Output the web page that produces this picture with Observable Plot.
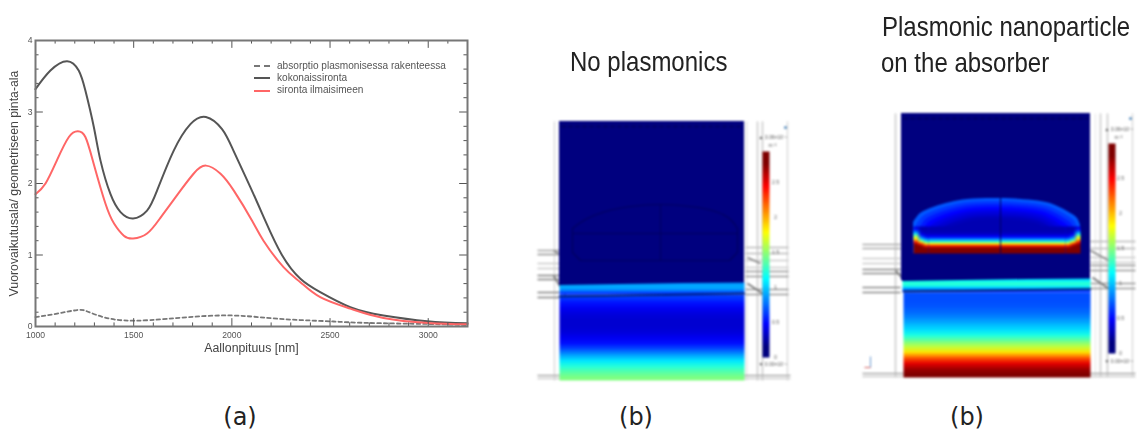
<!DOCTYPE html>
<html><head><meta charset="utf-8">
<script src="https://cdn.jsdelivr.net/npm/d3@7"></script>
<script src="https://cdn.jsdelivr.net/npm/@observablehq/plot@0.6"></script>
<style>
html,body{margin:0;background:#fff;width:1137px;height:432px;overflow:hidden;font-family:"Liberation Sans",sans-serif}
#stage{position:relative;width:1137px;height:432px}
#stage>*{position:absolute}
#chart{left:0;top:0;filter:blur(.55px)}
#fields{left:530px;top:0;filter:blur(.8px)}
.title{font-size:24px;color:#222;white-space:nowrap;transform-origin:0 50%;transform:scaleY(1.12);filter:blur(.35px)}
.cap{font-family:"DejaVu Sans",sans-serif;font-size:24px;color:#222;transform:translateX(-50%);white-space:nowrap}
#legend{left:254px;top:59.5px;filter:blur(.5px);font-size:10.1px;color:#555;line-height:12.4px}
#legend div{display:flex;align-items:center;white-space:nowrap}
#legend i{display:inline-block;width:16px;margin-right:7px;border-top:2px solid}
</style></head><body><div id="stage"></div>
<script>
// Panel (a): line series [nm, cross-section ratio]
const totalX=[1000,1076,1161,1220,1254,1297,1331,1382,1433,1497,1568,1619,1704,1789,1868,1950,2008,2094,2170,2255,2349,2450,2603,2772,2995,3200];
const totalY=[3.32,3.58,3.71,3.58,3.30,2.79,2.32,1.85,1.60,1.51,1.62,1.90,2.46,2.83,2.93,2.76,2.46,1.95,1.48,1.0,.667,.48,.27,.155,.075,.045];
const detX=[1000,1051,1110,1170,1215,1254,1297,1356,1400,1450,1497,1568,1636,1695,1738,1806,1868,1941,2010,2103,2161,2263,2349,2450,2603,2772,3000,3200];
const detY=[1.85,2.0,2.33,2.65,2.73,2.65,2.27,1.72,1.44,1.27,1.23,1.30,1.52,1.74,1.90,2.14,2.25,2.14,1.90,1.48,1.20,.83,.62,.41,.25,.12,.05,.03];
const absX=[1000,1110,1212,1264,1347,1450,1585,1773,1992,2180,2349,2517,2690,3000,3200];
const absY=[.13,.18,.23,.21,.13,.085,.09,.13,.155,.12,.09,.07,.05,.035,.02];
const xMajor=[1000,1500,2000,2500,3000];
const xMinor=[1100,1200,1300,1400,1600,1700,1800,1900,2100,2200,2300,2400,2600,2700,2800,2900,3100];
const yMajor=[0,1,2,3,4];
const yMinor=[.2,.4,.6,.8,1.2,1.4,1.6,1.8,2.2,2.4,2.6,2.8,3.2,3.4,3.6,3.8];
const legendNames=["absorptio plasmonisessa rakenteessa","kokonaissironta","sironta ilmaisimeen"];
const xTitle="Aallonpituus [nm]", yTitle="Vuorovaikutusala/ geometriseen pinta-ala";
// Panels (b): field values on a 0..1 colour range
const jetStops=[0,.125,.375,.625,.875,1];
const jetColors=["#00007f","#0000ff","#00ffff","#ffff00","#ff0000","#7f0000"];
const barRamp=[1,.875,.75,.625,.5,.375,.25,.125,0];
const barLabels=[2.5,2,1.5,1,.5,0];
const band1=[.27,.29,.29,.27,.22,.17];
const substrate1=[.18,.14,.11,.09,.08,.08,.09,.11,.14,.2,.28,.35,.41,.46,.5];
const band2=[.33,.39,.42,.4,.33,.24,.16];
const substrate2=[.2,.2,.21,.23,.26,.3,.34,.4,.48,.56,.65,.79,.9,.97,1];
const domeX=[913,920,933,950,967,1000,1033,1050,1067,1077,1080];
const domeTop=[222,213,207,202,199,198,200,203,211,218,225];
const rimValues=[.21,.18,.15,.125,.1,.08,.06,.05];
const rimInsets=[0,3,6,9,12,15,18,21];
const poolMid=[.05,.05,.05,.06,.08,.12,.2,.3,.42,.62,.82,.95,1,1,1];
const poolInner=[.05,.05,.06,.08,.12,.2,.3,.42,.62,.82,.95,1,1,1,1];
const poolEdge=[.1,.14,.2,.3,.42,.55,.62,.72,.85,.95,1,1,1,1,1];
// mesh lines: [x1,y1,x2,y2,shade]
const mesh=[
 [554,121,554,380,"#ddd"],[746,121,746,380,"#e4e4e4"],[757,121,757,380,"#ccc"],[762,121,762,380,"#ccc"],[787,121,787,380,"#ddd"],
 [537,250,559,250,"#aaa"],[537,254,559,254,"#999"],[537,263,559,263,"#ccc"],[537,268,559,268,"#ccc"],[537,275,559,275,"#888"],[537,279,559,279,"#888"],[537,292,559,292,"#888"],[537,297,559,297,"#888"],
 [745,247,788,247,"#bbb"],[745,253,788,253,"#bbb"],[745,260,788,260,"#ccc"],[745,267,788,267,"#ccc"],[745,271,788,271,"#999"],[745,276,788,276,"#999"],[745,289,788,289,"#999"],[745,294,788,294,"#999"],
 [537,375,790,375,"#aaa"],[537,378,790,378,"#ccc"],
 [747,257,760,263,"#888"],[747,283,762,293,"#777"],[553,275,565,295,"#777"],[553,250,558,253,"#888"],
 [895,113,895,377,"#ccc"],[1095,113,1095,377,"#eee"],[1100,113,1100,377,"#ccc"],[1107,113,1107,377,"#ccc"],[1132,113,1132,377,"#ddd"],
 [862,244,900,244,"#aaa"],[862,248,900,248,"#aaa"],[862,258,900,258,"#ccc"],[862,263,900,263,"#ccc"],[862,269,900,269,"#888"],[862,273,900,273,"#888"],[862,287,900,287,"#888"],[862,292,900,292,"#888"],
 [1090,241,1135,241,"#bbb"],[1090,248,1135,248,"#bbb"],[1090,257,1135,257,"#ccc"],[1090,262,1135,262,"#ccc"],[1090,265,1135,265,"#999"],[1090,270,1135,270,"#999"],[1090,283,1135,283,"#999"],[1090,288,1135,288,"#999"],
 [862,373,1135,373,"#aaa"],[862,376,1135,376,"#ccc"],
 [1090,250,1108,260,"#888"],[1092,277,1108,288,"#777"],[895,270,902,278,"#777"],[903,282,910,290,"#666"]
];
// outline of the particle drawn in the left field
const ghostX=[572,585,605,630,660,690,715,730,737];
const ghostY=[228,219,211,206,204,206,211,219,228];
const ghostBox=[[572,228],[572,252],[580,260],[729,260],[737,252],[737,228]];

const rows=(xs,ys)=>xs.map((x,i)=>({x,y:ys[i]}));
const L=(xs,ys,o)=>Plot.line(rows(xs,ys),{x:"x",y:"y",curve:"natural",...o});
const font="Liberation Sans";
const chart=Plot.plot({
 width:500,height:380,marginLeft:35,marginRight:33,marginTop:40,marginBottom:54,
 style:{background:"transparent",fontFamily:font},
 x:{domain:[1000,3200],axis:null},y:{domain:[0,4],axis:null},
 marks:[
  L(absX,absY,{stroke:"#777",strokeWidth:1.8,strokeDasharray:"3.5,3"}),
  L(totalX,totalY,{stroke:"#555",strokeWidth:2}),
  L(detX,detY,{stroke:"#ff6666",strokeWidth:2}),
  Plot.ruleX(xMajor,{y1:0,y2:.11,stroke:"#555"}),Plot.ruleX(xMajor,{y1:3.89,y2:4,stroke:"#555"}),
  Plot.ruleX(xMinor,{y1:0,y2:.05,stroke:"#555"}),Plot.ruleX(xMinor,{y1:3.95,y2:4,stroke:"#555"}),
  Plot.ruleY(yMajor,{x1:1000,x2:1040,stroke:"#555"}),Plot.ruleY(yMajor,{x1:3160,x2:3200,stroke:"#555"}),
  Plot.ruleY(yMinor,{x1:1000,x2:1018,stroke:"#555"}),Plot.ruleY(yMinor,{x1:3182,x2:3200,stroke:"#555"}),
  Plot.frame({stroke:"#777",strokeWidth:2}),
  Plot.axisX(xMajor,{anchor:"bottom",tickSize:0,tickPadding:5.5,fontSize:8.6,label:null,color:"#555",tickFormat:d=>String(d)}),
  Plot.axisY(yMajor,{anchor:"left",tickSize:0,tickPadding:3,fontSize:8.6,label:null,color:"#555",tickFormat:d=>String(d)}),
  Plot.text([xTitle],{frameAnchor:"bottom",dy:25,fontSize:12.3,fontWeight:500,fill:"#444"}),
  Plot.text([yTitle],{frameAnchor:"left",textAnchor:"middle",rotate:-90,dx:-21,fontSize:12.3,fill:"#444"})
 ]
});
chart.id="chart";

const meshMarks=Plot.link(mesh,{x1:d=>d[0],y1:d=>d[1],x2:d=>d[2],y2:d=>d[3],stroke:d=>d[4],strokeWidth:1.6});
const ras=(vals,w,x1,x2,y1,y2)=>Plot.raster(vals,{width:w,height:vals.length/w,x1,x2,y1,y2,fill:d=>d});
const grid=(cols)=>cols[0].flatMap((_,r)=>cols.map(c=>c[r]));
const navy=(x1,x2,y1,y2)=>Plot.rect([0],{x1,x2,y1,y2,fill:"#00007f"});
const ink="#000060";
const fields=Plot.plot({
 width:607,height:432,margin:0,style:{background:"transparent",fontFamily:font},
 x:{domain:[530,1137],range:[0,607],axis:null},
 y:{domain:[0,432],range:[0,432],axis:null},
 color:{type:"linear",domain:jetStops,range:jetColors,interpolate:"rgb"},
 marks:[
  meshMarks,
  // left field
  navy(559,744,121,285),
  ras(band1,1,559,744,282,294),
  Plot.areaY([[559,282,285],[744,282,282]],{x:d=>d[0],y1:d=>d[1],y2:d=>d[2],fill:"#00007f"}),
  ras(substrate1,1,559,744,294,380),
  Plot.line([[559,296],[744,293]],{x:d=>d[0],y:d=>d[1],stroke:"#002060",strokeWidth:1.6}),
  L(ghostX,ghostY,{stroke:ink,strokeWidth:1.2}),
  Plot.line(ghostBox,{x:d=>d[0],y:d=>d[1],stroke:ink,strokeWidth:1.2}),
  Plot.ruleY([233],{x1:572,x2:737,stroke:ink,strokeWidth:1}),
  Plot.ruleX([660],{y1:204,y2:260,stroke:ink,strokeWidth:1}),
  Plot.ruleY([126],{x1:561,x2:742,stroke:ink,strokeWidth:1.4,strokeDasharray:"5,2"}),
  // colour bar left
  ras(barRamp,1,762,769,151,357),
  Plot.text(barLabels,{x:775,y:d=>357-70*d,text:d=>String(d),fontSize:5.5,fill:"#666"}),
  Plot.text(["\u25B2 3.06\u00D710\u207B\u2078"],{x:758,y:137,textAnchor:"start",fontSize:5,fill:"#555"}),
  Plot.text(["m\u207B\u00B2"],{x:772,y:145,fontSize:5,fill:"#555"}),
  Plot.text(["\u25BC 0.00\u00D710\u207B\u2078"],{x:758,y:364,textAnchor:"start",fontSize:5,fill:"#555"}),
  Plot.dot([785],{x:d=>d,y:127,r:1.5,fill:"#5b8fc0"}),
  // right field
  navy(901,1090,113,280),
  ras(band2,1,902,1090,278,292),
  Plot.areaY([[902,278,281],[1090,278,278]],{x:d=>d[0],y1:d=>d[1],y2:d=>d[2],fill:"#00007f"}),
  ras(substrate2,1,903,1090,292,377),
  Plot.line([[903,291],[1090,288.5]],{x:d=>d[0],y:d=>d[1],stroke:"#002060",strokeWidth:1.6}),
  ...rimValues.map((v,k)=>Plot.areaY(domeX.map((x,i)=>({x:1000+(x-1000)*(1-rimInsets[k]/87),t:domeTop[i]+rimInsets[k]})),{x:"x",y1:"t",y2:253,fill:()=>v,curve:"catmull-rom"})),
  ras(grid([poolEdge,poolInner,poolMid]),3,913,928,226,253),
  ras(poolMid,1,928,1065,226,253),
  ras(grid([poolMid,poolInner,poolEdge]),3,1065,1080,226,253),
  Plot.ruleX([1000],{y1:198,y2:253,stroke:ink,strokeWidth:1}),
  Plot.ruleY([118],{x1:903,x2:1088,stroke:ink,strokeWidth:1.4,strokeDasharray:"5,2"}),
  // colour bar right
  ras(barRamp,1,1108,1115,143,353),
  Plot.text(barLabels,{x:1120,y:d=>353-70*d,text:d=>String(d),fontSize:5.5,fill:"#666"}),
  Plot.text(["\u25B2 3.06\u00D710\u207B\u2078"],{x:1104,y:129,textAnchor:"start",fontSize:5,fill:"#555"}),
  Plot.text(["m\u207B\u00B2"],{x:1118,y:137,fontSize:5,fill:"#555"}),
  Plot.text(["\u25BC 0.00\u00D710\u207B\u2078"],{x:1104,y:361,textAnchor:"start",fontSize:5,fill:"#555"}),
  Plot.dot([1130],{x:d=>d,y:118,r:1.5,fill:"#5b8fc0"}),
  Plot.link([[870,367,870,356,"#6a9ad0"],[870,367,864,367,"#d06060"]],{x1:d=>d[0],y1:d=>d[1],x2:d=>d[2],y2:d=>d[3],stroke:d=>d[4]})
 ]
});
fields.id="fields";
const stage=document.getElementById("stage");
stage.append(chart,fields);
const add=(cls,text,left,top)=>{const e=document.createElement("div");e.className=cls;e.textContent=text;e.style.left=left+"px";e.style.top=top+"px";stage.append(e);};
const leg=document.createElement("div");leg.id="legend";
[["#777","dashed"],["#555","solid"],["#ff6666","solid"]].forEach(([c,s],i)=>{
 const r=document.createElement("div");const sw=document.createElement("i");sw.style.borderTop="2px "+s+" "+c;
 r.append(sw,legendNames[i]);leg.append(r);});
stage.append(leg);
add("title","No plasmonics",570,48);
add("title","Plasmonic nanoparticle",882,13);
add("title","on the absorber",881,49);
add("cap","(a)",240,403);add("cap","(b)",636,403);add("cap","(b)",967,403);
</script></body></html>
